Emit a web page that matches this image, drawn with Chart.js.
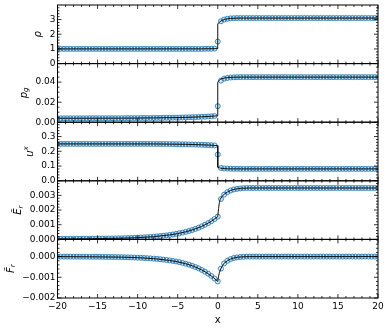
<!DOCTYPE html>
<html>
<head>
<meta charset="utf-8">
<script src="https://cdn.jsdelivr.net/npm/chart.js@4/dist/chart.umd.min.js"></script>
<style>
  html, body { margin: 0; padding: 0; background: #fff; }
  canvas { display: block; }
</style>
</head>
<body>
<canvas id="c" width="391" height="328"></canvas>
<script>
// cell centres (shared by all five panels)
const xs = [
  -20,-19.6,-19.2,-18.8,-18.4,-18,-17.6,-17.2,-16.8,-16.4,
  -16,-15.6,-15.2,-14.8,-14.4,-14,-13.6,-13.2,-12.8,-12.4,
  -12,-11.6,-11.2,-10.8,-10.4,-10,-9.6,-9.2,-8.8,-8.4,
  -8,-7.6,-7.2,-6.8,-6.4,-6,-5.6,-5.2,-4.8,-4.4,
  -4,-3.6,-3.2,-2.8,-2.4,-2,-1.6,-1.2,-0.8,-0.4,
  0,
  0.4,0.8,1.2,1.6,2,2.4,2.8,3.2,3.6,4,
  4.4,4.8,5.2,5.6,6,6.4,6.8,7.2,7.6,8,
  8.4,8.8,9.2,9.6,10,10.4,10.8,11.2,11.6,12,
  12.4,12.8,13.2,13.6,14,14.4,14.8,15.2,15.6,16,
  16.4,16.8,17.2,17.6,18,18.4,18.8,19.2,19.6,20
];

// numerical solution (markers)
const rho = [
  1,1,1,1,1,1,1,1,1,1,
  1,1,1,1,1,1,1,1,1,1,
  1,1,1,1,1,1,1,1,1,1,
  1,1,1,1,1,1,1,1,1,1,
  1,1,1,1,1,1,1.005,1.01,1.01,1.02,
  1.5,
  2.88,3.0,3.05,3.08,3.09,3.1,3.1,3.1,3.1,3.1,
  3.1,3.1,3.1,3.1,3.1,3.1,3.1,3.1,3.1,3.1,
  3.1,3.1,3.1,3.1,3.1,3.1,3.1,3.1,3.1,3.1,
  3.1,3.1,3.1,3.1,3.1,3.1,3.1,3.1,3.1,3.1,
  3.1,3.1,3.1,3.1,3.1,3.1,3.1,3.1,3.1,3.1
];
const pg = [
  0.0039,0.0039,0.0039,0.0039,0.0039,0.0039,0.0039,0.0039,0.0039,0.0039,
  0.004,0.004,0.004,0.004,0.004,0.004,0.004,0.004,0.004,0.004,
  0.004,0.004,0.0041,0.0041,0.0041,0.0041,0.0042,0.0042,0.0042,0.0042,
  0.0043,0.0043,0.0043,0.0044,0.0044,0.0045,0.0045,0.0046,0.0046,0.0047,
  0.0048,0.0049,0.005,0.0051,0.0052,0.0054,0.0055,0.0057,0.0059,0.0062,
  0.016,
  0.0415,0.0435,0.0442,0.0446,0.0448,0.0449,0.045,0.045,0.045,0.045,
  0.045,0.045,0.045,0.045,0.045,0.045,0.045,0.045,0.045,0.045,
  0.045,0.045,0.045,0.045,0.045,0.045,0.045,0.045,0.045,0.045,
  0.045,0.045,0.045,0.045,0.045,0.045,0.045,0.045,0.045,0.045,
  0.045,0.045,0.045,0.045,0.045,0.045,0.045,0.045,0.045,0.045
];
const ux = [
  0.25,0.25,0.25,0.25,0.25,0.25,0.25,0.25,0.25,0.25,
  0.25,0.25,0.25,0.25,0.25,0.25,0.25,0.25,0.25,0.25,
  0.25,0.25,0.25,0.25,0.25,0.25,0.25,0.25,0.25,0.25,
  0.2498,0.2497,0.2495,0.2493,0.249,0.2488,0.2485,0.2482,0.2478,0.2474,
  0.247,0.2465,0.246,0.2454,0.2447,0.244,0.2431,0.2421,0.241,0.2395,
  0.178,
  0.087,0.084,0.0825,0.0815,0.081,0.0808,0.0806,0.0806,0.0806,0.0806,
  0.0806,0.0806,0.0806,0.0806,0.0806,0.0806,0.0806,0.0806,0.0806,0.0806,
  0.0806,0.0806,0.0806,0.0806,0.0806,0.0806,0.0806,0.0806,0.0806,0.0806,
  0.0806,0.0806,0.0806,0.0806,0.0806,0.0806,0.0806,0.0806,0.0806,0.0806,
  0.0806,0.0806,0.0806,0.0806,0.0806,0.0806,0.0806,0.0806,0.0806,0.0806
];
const er = [
  0.000035,0.000036,0.000036,0.000037,0.000038,0.000039,0.00004,0.000041,0.000043,0.000044,
  0.000046,0.000048,0.00005,0.000052,0.000055,0.000058,0.000061,0.000065,0.000069,0.000074,
  0.000079,0.000085,0.000092,0.0001,0.000108,0.000117,0.000128,0.00014,0.000153,0.000168,
  0.000185,0.000203,0.000224,0.000248,0.000274,0.000304,0.000337,0.000374,0.000416,0.000463,
  0.000515,0.000574,0.000639,0.000713,0.000796,0.000888,0.000992,0.001109,0.00124,0.001386,
  0.00155,
  0.00275,0.00305,0.00322,0.00333,0.0034,0.00344,0.00347,0.00349,0.0035,0.0035,
  0.0035,0.0035,0.0035,0.0035,0.0035,0.0035,0.0035,0.0035,0.0035,0.0035,
  0.0035,0.0035,0.0035,0.0035,0.0035,0.0035,0.0035,0.0035,0.0035,0.0035,
  0.0035,0.0035,0.0035,0.0035,0.0035,0.0035,0.0035,0.0035,0.0035,0.0035,
  0.0035,0.0035,0.0035,0.0035,0.0035,0.0035,0.0035,0.0035,0.0035,0.0035
];
const fr = [
  -0.000002,-0.000003,-0.000003,-0.000003,-0.000004,-0.000004,-0.000005,-0.000006,-0.000006,-0.000007,
  -0.000008,-0.000009,-0.00001,-0.000012,-0.000013,-0.000015,-0.000017,-0.000019,-0.000022,-0.000025,
  -0.000028,-0.000032,-0.000036,-0.000041,-0.000047,-0.000053,-0.00006,-0.000068,-0.000077,-0.000087,
  -0.000099,-0.000112,-0.000126,-0.000143,-0.000162,-0.000184,-0.000209,-0.000236,-0.000268,-0.000303,
  -0.000344,-0.00039,-0.000442,-0.0005,-0.000567,-0.000642,-0.000728,-0.000825,-0.000935,-0.001059,
  -0.0012,
  -0.00058,-0.00033,-0.0002,-0.00012,-0.00007,-0.00004,-0.00002,-0.00001,0,0,
  0,0,0,0,0,0,0,0,0,0,
  0,0,0,0,0,0,0,0,0,0,
  0,0,0,0,0,0,0,0,0,0,
  0,0,0,0,0,0,0,0,0,0
];

// reference solution (black curves)
const rhoLineX = [-20,-2,0,0,0.2,0.4,0.8,1.2,1.6,2.4,3.2,20];
const rhoLineY = [1,1.005,1.02,2.7,2.82,2.9,3.0,3.05,3.08,3.095,3.1,3.1];
const pgLineX = [-20,-12,-8,-4,-2,-1,0,0,0.2,0.4,0.8,1.2,2,3,20];
const pgLineY = [0.0039,0.004,0.0043,0.0048,0.0054,0.0058,0.0064,0.04,0.042,0.0432,0.044,0.0445,0.0449,0.045,0.045];
const uLineX = [-20,-8,-4,-2,-1,0,0,0.2,0.4,0.8,1.2,2,3,20];
const uLineY = [0.25,0.2498,0.247,0.244,0.2415,0.238,0.092,0.088,0.085,0.083,0.0815,0.0808,0.0806,0.0806];
const eLineX = [-20,-16,-12,-10,-8,-6,-5,-4,-3,-2,-1.5,-1,-0.5,0,0.1,0.2,0.3,0.5,0.8,1.2,1.6,2,2.5,3,4,20];
const eLineY = [0.000035,0.000046,0.000079,0.000117,0.000185,0.000304,0.000394,0.000515,0.000675,0.000888,0.00102,0.00117,0.00135,0.00155,0.0021,0.0025,0.0027,0.0029,0.00308,0.00322,0.00333,0.0034,0.00345,0.00348,0.0035,0.0035];
const fLineX = [-20,-16,-12,-10,-8,-6,-5,-4,-3,-2,-1.5,-1,-0.5,0,0.1,0.2,0.4,0.6,0.8,1.2,1.6,2,2.5,3,4,20];
const fLineY = [-0.000002,-0.000008,-0.000028,-0.000053,-0.000099,-0.000184,-0.000252,-0.000344,-0.00047,-0.000642,-0.000751,-0.000878,-0.001026,-0.0012,-0.00095,-0.00078,-0.00057,-0.00043,-0.00032,-0.0002,-0.00012,-0.00007,-0.00003,-0.000012,0,0];

// x ticks
const xMin = -20, xMax = 20, xStep = 5, xMinor = 1;

// panel axes, top to bottom
const panels = [
  { id: 'y1', min: 0, max: 3.99, step: 1, minor: 0.2, dec: 0, title: [['ρ']], pts: rho, lx: rhoLineX, ly: rhoLineY },
  { id: 'y2', min: 0, max: 0.0585, step: 0.02, minor: 0.005, dec: 2, title: [['p'], ['g', 'sub']], pts: pg, lx: pgLineX, ly: pgLineY },
  { id: 'y3', min: 0, max: 0.397, step: 0.1, minor: 0.02, dec: 1, title: [['u'], ['x', 'sup']], pts: ux, lx: uLineX, ly: uLineY },
  { id: 'y4', min: 0, max: 0.00399, step: 0.001, minor: 0.0002, dec: 3, title: [['Ẽ'], ['r', 'sub']], pts: er, lx: eLineX, ly: eLineY },
  { id: 'y5', min: -0.002, max: 0.00083, step: 0.001, minor: 0.0002, dec: 3, title: [['F\u0303'], ['r', 'sub']], pts: fr, lx: fLineX, ly: fLineY },
];

const TICK_FONT = '9px "DejaVu Sans"';
const fmtNum = (v, dec) => {
  if (Math.abs(v) < 1e-12) v = 0;
  const s = Math.abs(v).toFixed(dec);
  return v < 0 ? '\u2212' + s : s;
};

const datasets = [];
panels.forEach(p => {
  datasets.push({
    type: 'line', showLine: true, yAxisID: p.id, order: 0,
    data: p.lx.map((x, i) => ({ x, y: p.ly[i] })),
    borderColor: '#111', borderWidth: 1, pointRadius: 0, tension: 0,
  });
  datasets.push({
    type: 'scatter', yAxisID: p.id, order: 1,
    data: xs.map((x, i) => ({ x, y: p.pts[i] })),
    pointRadius: 2.5, pointBorderWidth: 1,
    pointBorderColor: 'rgba(31,119,180,0.85)',
    pointBackgroundColor: 'rgba(31,119,180,0.15)',
  });
});

const scales = {
  x: {
    type: 'linear', min: xMin, max: xMax,
    grid: { display: false, drawTicks: false }, border: { display: false },
    ticks: { stepSize: xStep, padding: 3, color: '#000', font: { size: 9 }, callback: v => fmtNum(v, 0) },
    title: { display: true, text: 'x', color: '#000', font: { size: 10 }, padding: { top: 0, bottom: 2 } },
    afterFit: s => { s.height = 30; s.paddingLeft = 0; s.paddingRight = 0; },
  },
};
// stacked axes: last defined ends up on top
panels.slice().reverse().forEach(p => {
  scales[p.id] = {
    type: 'linear', position: 'left', stack: 'panels', stackWeight: 1,
    min: p.min, max: p.max,
    grid: { display: false, drawTicks: false }, border: { display: false },
    ticks: {
      stepSize: p.step, includeBounds: false, autoSkip: false, padding: 2,
      color: '#000', font: { size: 9 }, callback: v => fmtNum(v, p.dec),
    },
    afterFit: s => { s.width = 57; s.paddingTop = 0; s.paddingBottom = 0; },
  };
});

function tick(ctx, x1, y1, x2, y2) {
  ctx.beginPath(); ctx.moveTo(x1, y1); ctx.lineTo(x2, y2); ctx.stroke();
}

const axesPlugin = {
  id: 'mplAxes',
  afterDraw(chart) {
    const ctx = chart.ctx, a = chart.chartArea, xs_ = chart.scales.x;
    ctx.save();
    ctx.strokeStyle = '#000';
    panels.forEach(p => {
      const s = chart.scales[p.id];
      const top = s.top, bot = s.bottom;
      ctx.lineWidth = 0.8;
      // y ticks, inward on both sides
      const isMajor = v => Math.abs(v / p.step - Math.round(v / p.step)) < 1e-6;
      for (let k = Math.ceil(p.min / p.minor - 1e-9); k * p.minor <= p.max + 1e-12; k++) {
        const v = k * p.minor, y = s.getPixelForValue(v), len = isMajor(v) ? 4 : 2;
        tick(ctx, a.left, y, a.left + len, y);
        tick(ctx, a.right, y, a.right - len, y);
      }
      // x ticks at top and bottom of every panel
      for (let v = xMin; v <= xMax; v += xMinor) {
        const x = xs_.getPixelForValue(v), len = (v % xStep === 0) ? 4 : 2;
        tick(ctx, x, bot, x, bot - len);
        tick(ctx, x, top, x, top + len);
      }
      ctx.lineWidth = 1;
      ctx.strokeRect(a.left, top, a.right - a.left, bot - top);

      // y title, left of the widest tick label
      ctx.font = TICK_FONT;
      let w = 0;
      s.ticks.forEach(t => { w = Math.max(w, ctx.measureText(fmtNum(t.value, p.dec)).width); });
      const labelLeft = a.left - 2 - w;
      const cy = (top + bot) / 2;
      const parts = p.title.map(([t, kind]) => ({
        t, kind, font: kind ? 'italic 7px "DejaVu Sans"' : 'italic 10px "DejaVu Sans"',
      }));
      let total = 0;
      parts.forEach(q => { ctx.font = q.font; q.w = ctx.measureText(q.t).width; total += q.w; });
      ctx.save();
      ctx.translate(labelLeft - 6, cy);
      ctx.rotate(-Math.PI / 2);
      ctx.fillStyle = '#000';
      ctx.textAlign = 'left';
      ctx.textBaseline = 'alphabetic';
      let cx = -total / 2;
      parts.forEach(q => {
        ctx.font = q.font;
        const dy = q.kind === 'sub' ? 1.5 : q.kind === 'sup' ? -4.5 : 0;
        ctx.fillText(q.t, cx, -2.5 + dy);
        cx += q.w;
      });
      ctx.restore();
    });
    ctx.restore();
  },
};

Chart.defaults.font.family = '"DejaVu Sans", sans-serif';
new Chart(document.getElementById('c'), {
  type: 'scatter',
  data: { datasets },
  options: {
    responsive: false, animation: false, devicePixelRatio: 1,
    layout: { padding: { left: 0.5, top: 5, right: 13, bottom: 0 } },
    plugins: { legend: { display: false }, tooltip: { enabled: false } },
    scales,
  },
  plugins: [axesPlugin],
});
</script>
</body>
</html>
